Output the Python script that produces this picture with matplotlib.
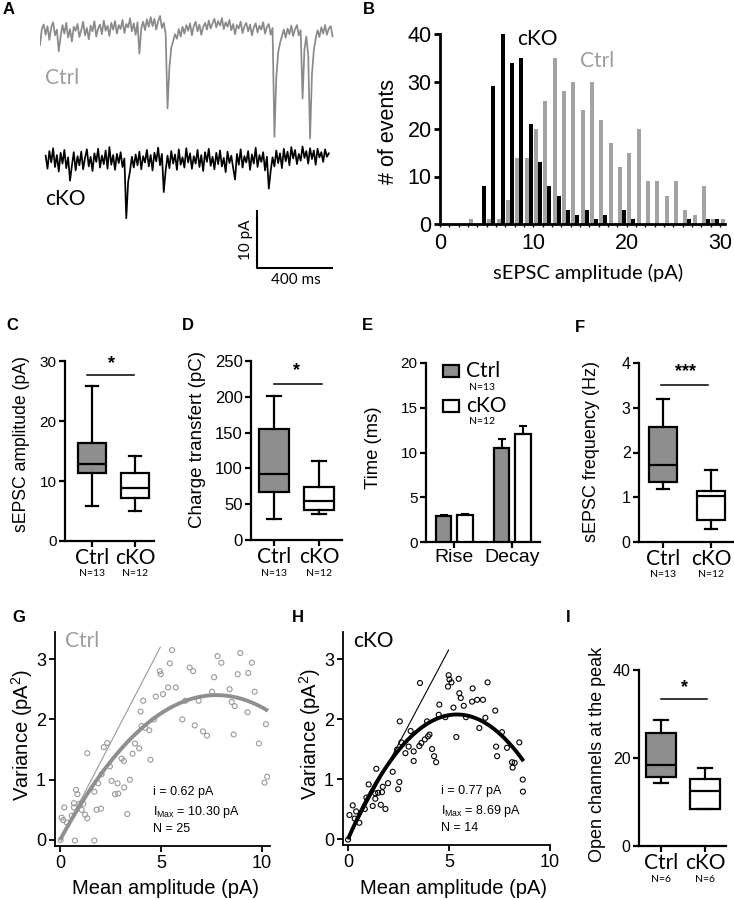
import numpy as np
import matplotlib
matplotlib.use('Agg')
import matplotlib.pyplot as plt
from matplotlib.patches import Rectangle

plt.rcParams['font.family'] = ['Liberation Sans', 'DejaVu Sans']
plt.rcParams['mathtext.fontset'] = 'custom'
plt.rcParams['mathtext.rm'] = 'Liberation Sans'
plt.rcParams['mathtext.it'] = 'Liberation Sans:italic'
plt.rcParams['mathtext.bf'] = 'Liberation Sans:bold'

W, H = 734, 900
MYR = 'Lato'
BOX_GRAY = '#8e8e8e'
HIST_GRAY = '#a3a3a3'
TRACE_GRAY = '#8a8a8a'
SCAT_GRAY = '#9a9a9a'
TEXT_GRAY = '#9c9c9c'

# ---------------- data ----------------
# A: example traces (pA relative to baseline, one sample every 10 ms)
ctrl_trace = [
    -2.3, 0.6, 1.3, -0.5, 1.0, -1.4, 0.8, 1.7, -0.6, 0.4, -3.4, -0.8, 1.2, -0.3, 1.6, -1.0, 0.5, -1.7, 0.9, 0.2,
    1.4, -0.9, 0.3, 1.8, -0.6, 0.7, -1.3, 1.1, 0.1, 1.9, -0.8, 0.6, 1.3, -0.4, 2.0, 0.2, 1.1, -0.7, 1.6, 0.4,
    1.9, -0.3, 1.2, 0.5, 2.1, -0.2, 1.4, 0.8, 2.4, 0.1, 1.5, -0.5, 1.7, -3.8, 0.6, 1.8, 0.3, 2.2, 0.9, 2.6,
    1.0, 2.3, 0.4, 1.9, 2.8, 0.7, 1.6, -0.4, -13.4, -6.2, -2.8, -1.6, -0.4, -1.2, 0.5, -0.8, 0.9, -0.3, 1.2, 0.2,
    1.5, -0.6, 1.0, 1.8, 0.1, 1.3, -0.5, 0.9, 1.6, 0.4, 2.0, 0.6, 1.5, 2.3, 0.8, 1.9, 1.1, 2.4, 0.5, 1.7,
    0.9, 2.1, 0.3, 1.4, -0.4, 1.2, 0.6, 1.8, -0.2, 1.0, 1.6, 0.1, 1.3, -0.6, 0.8, 1.5, -0.1, 1.1, 0.4, 1.7,
    -0.3, 0.9, 1.4, -0.5, 0.7, -18.4, -8.0, -3.6, -1.9, -0.8, 0.4, -1.0, 0.6, -0.4, 1.1, -0.7, 0.5, 1.2, -0.6, 0.3,
    -11.7, -3.1, -0.8, -4.0, -18.7, -7.5, -3.2, -1.2, 0.3, -0.9, 0.8, -0.3, 1.2, -0.5, 0.6, 1.0, -0.8,
]
cko_trace = [
    0.8, -1.5, 1.6, -0.4, 2.1, -1.2, 0.9, -2.0, 1.3, -0.6, 1.8, -1.4, 0.5, -3.6, -1.0, 1.4, -1.8, 0.7, -0.9, 1.5,
    -1.6, 0.4, 1.9, -1.1, 0.6, -1.9, 1.2, -0.3, 2.0, -1.3, 0.8, -0.7, 1.7, -1.5, 2.3, -0.8, 0.9, -1.7, 1.1, -0.5,
    1.4, -1.2, 0.3, -10.2, -3.8, -1.9, 0.6, -1.3, 1.0, -0.9, 1.5, -1.6, 0.7, -0.4, 1.8, -1.1, 0.9, -1.8, 1.3, -0.2,
    2.2, -0.9, 1.1, -5.6, -1.8, 0.8, -1.4, 1.6, -0.6, 1.0, -1.7, 1.9, -0.8, 0.5, -1.3, 2.1, -0.4, 1.2, -1.5, 0.7,
    -0.6, 1.8, -1.2, 0.9, -1.9, 1.4, -0.3, 2.0, -1.0, 0.6, -1.6, 1.3, -0.7, 1.7, -1.1, 0.4, -2.1, 1.5, -0.5, 0.8,
    -1.4, -3.4, 1.1, -0.8, 1.9, -1.3, 0.7, -0.4, 1.6, -1.7, 1.0, -0.6, 2.2, -1.2, 0.9, -0.3, 1.4, -1.8, 0.6, -5.0,
    -1.9, 0.5, -1.1, 1.7, -0.5, 1.2, -1.4, 2.0, -0.2, 1.5, -0.9, 2.3, 0.3, 1.8, -0.7, 1.1, -0.1, 2.4, 0.4, 1.6,
    -0.6, 2.1, 0.2, 1.7, -0.8, 2.0, 0.5, 1.4, -0.3, 1.9, 0.6, 1.2,
]
sample_ms = 10
ctrl_base, cko_base = -5.6, -28.1

# B: amplitude histogram, 1 pA bins
bin_start = list(range(31))
cko_counts = [0, 0, 0, 0, 8, 29, 40, 34, 35, 21, 13, 8, 6, 3, 2, 3, 1, 2, 0, 3, 1,
              0, 0, 0, 0, 0, 1, 0, 1, 1, 0]
ctrl_counts = [0, 0, 0, 1, 0, 1, 1, 5, 14, 14, 20, 26, 35, 28, 30, 24, 30, 22, 17, 12, 15,
               20, 9, 9, 6, 9, 3, 2, 8, 1, 1]

# box plots: (whisker low, Q1, median, Q3, whisker high)
groups = ['Ctrl', 'cKO']
amp_ctrl = [5.8, 11.4, 12.9, 16.4, 25.8]
amp_cko = [4.95, 7.2, 8.85, 11.35, 14.1]
charge_ctrl = [28.9, 66.6, 91.7, 154.6, 201.0]
charge_cko = [36.3, 41.4, 54.5, 74.5, 110.8]
freq_ctrl = [1.19, 1.33, 1.73, 2.58, 3.2]
freq_cko = [0.29, 0.5, 1.03, 1.14, 1.6]
chan_ctrl = [14.4, 15.6, 18.4, 25.6, 28.6]
chan_cko = [8.3, 8.3, 12.5, 15.2, 17.65]
n_main = ['N=13', 'N=12']
n_chan = ['N=6', 'N=6']

# E: kinetics, mean + SEM
kin_labels = ['Rise', 'Decay']
kin_ctrl = [2.86, 10.54]
kin_ctrl_sem = [0.14, 1.0]
kin_cko = [3.0, 12.06]
kin_cko_sem = [0.1, 0.89]

# G/H: non-stationary fluctuation analysis
g_x = [0.03, 0.08, 0.21, 0.16, 0.33, 0.58, 0.69, 0.69, 0.79, 0.86, 0.74, 0.96, 1.07, 1.15, 1.24, 1.35,
       1.35, 1.70, 1.81, 2.03, 1.70, 1.89, 2.06, 2.34, 2.17, 2.47, 2.55, 2.72, 2.88, 2.85, 3.05, 3.16,
       3.18, 3.33, 3.46, 3.59, 3.71, 3.92, 3.99, 4.12, 4.04, 4.23, 4.42, 4.48, 4.65, 4.74, 4.94, 4.99,
       5.10, 5.35, 5.44, 5.55, 5.73, 6.06, 6.21, 6.42, 6.59, 6.67, 6.87, 7.08, 7.28, 7.53, 7.63, 7.80,
       7.99, 8.40, 8.50, 8.65, 8.60, 8.80, 8.93, 9.29, 9.32, 9.50, 9.64, 9.85, 10.20, 10.13, 10.26]
g_y = [0.0, 0.37, 0.54, 0.33, 0.29, 0.40, 0.61, 0.54, 0.83, 0.76, -0.01, 0.60, 0.50, 0.60, 0.42, 0.36,
       1.44, 0.80, 0.50, 0.52, -0.01, 0.94, 1.09, 1.61, 1.54, 1.22, 0.98, 0.76, 0.77, 0.94, 1.35, 1.31,
       0.87, 0.43, 1.00, 1.43, 1.60, 1.52, 2.13, 2.31, 1.89, 1.86, 1.82, 1.33, 2.00, 2.38, 2.80, 2.75,
       2.42, 2.53, 2.93, 3.15, 2.53, 2.00, 2.31, 2.86, 2.80, 1.90, 2.31, 1.80, 1.73, 2.46, 2.70, 3.05,
       2.94, 2.50, 2.29, 2.22, 1.75, 2.75, 3.10, 2.12, 2.77, 2.94, 2.46, 1.60, 1.92, 0.95, 1.05]
h_x = [0.0, 0.07, 0.23, 0.40, 0.33, 0.56, 0.83, 0.91, 1.02, 1.22, 1.35, 1.35, 1.40, 1.49, 1.62, 1.68,
       1.72, 1.85, 1.98, 2.21, 2.48, 2.54, 2.56, 2.43, 2.64, 2.84, 3.00, 3.10, 3.25, 3.25, 3.53, 3.63,
       3.80, 3.96, 4.03, 3.56, 3.91, 4.16, 4.26, 4.36, 4.52, 4.49, 4.82, 4.95, 4.98, 5.02, 5.12, 5.22,
       5.36, 5.48, 5.51, 5.58, 5.73, 5.84, 6.17, 6.14, 6.39, 6.50, 6.68, 6.80, 6.91, 7.29, 7.33, 7.38,
       7.62, 7.87, 8.12, 8.15, 8.25, 8.48, 8.65, 8.66]
h_y = [-0.01, 0.40, 0.56, 0.46, 0.34, 0.27, 0.50, 0.69, 0.91, 0.55, 0.67, 0.76, 1.17, 0.77, 0.57, 0.78,
       0.87, 0.50, 0.93, 1.12, 0.83, 0.95, 1.96, 1.49, 1.61, 1.43, 1.54, 1.80, 1.46, 1.30, 1.55, 1.60,
       1.66, 1.71, 1.74, 2.60, 1.96, 1.50, 1.38, 1.28, 2.24, 2.07, 2.03, 2.54, 2.73, 2.66, 2.61, 2.19,
       1.70, 2.67, 2.43, 2.35, 2.22, 2.03, 2.51, 2.29, 2.32, 1.85, 2.32, 2.02, 2.61, 2.14, 1.54, 1.38,
       1.78, 1.52, 1.28, 1.19, 1.27, 1.61, 0.99, 0.79]
g_i, g_imax, g_n = 0.62, 10.30, 25
h_i, h_imax, h_n = 0.77, 8.69, 14
g_line_end = (4.97, 3.2)
h_line_end = (4.98, 3.15)

# ---------------- figure ----------------
fig = plt.figure(figsize=(W / 100, H / 100), dpi=100)


def add_ax(l, t, r, b):
    return fig.add_axes([l / W, 1 - b / H, (r - l) / W, (b - t) / H])


def ftext(x, y, s, **kw):
    return fig.text(x / W, 1 - y / H, s, **kw)


def clean(ax, lw=1.6, ticklen=4, labelsize=11):
    for s in ('top', 'right'):
        ax.spines[s].set_visible(False)
    for s in ('left', 'bottom'):
        ax.spines[s].set_linewidth(lw)
    ax.tick_params(width=lw, length=ticklen, labelsize=labelsize, pad=2, colors='k')


def box_panel(ax, ctrl, cko, xlim, ylim, yticks, width, sig, star, ns, n_y,
              lw=1.6, tick_fs=11, cat_fs=15):
    keys = ['whislo', 'q1', 'med', 'q3', 'whishi']
    stats = [dict(zip(keys, ctrl), fliers=[]), dict(zip(keys, cko), fliers=[])]
    bp = ax.bxp(stats, positions=[1, 2], widths=width, capwidths=width * 0.45,
                showfliers=False, patch_artist=True, manage_ticks=False,
                boxprops=dict(linewidth=lw, edgecolor='k'),
                whiskerprops=dict(linewidth=lw, color='k'),
                capprops=dict(linewidth=lw, color='k'),
                medianprops=dict(linewidth=lw, color='k'))
    bp['boxes'][0].set_facecolor(BOX_GRAY)
    bp['boxes'][1].set_facecolor('white')
    ax.set_xlim(*xlim)
    ax.set_ylim(*ylim)
    ax.set_yticks(yticks)
    clean(ax, lw=lw, labelsize=tick_fs)
    ax.set_xticks([1, 2], groups, fontfamily=MYR, fontsize=cat_fs)
    ax.tick_params(axis='x', length=4, pad=1)
    (x1, x2, y), (sx, sy, stxt) = sig, star
    ax.plot([x1, x2], [y, y], color='k', lw=1.1, clip_on=False)
    ax.text(sx, sy, stxt, ha='center', va='center', fontsize=13, fontweight='bold')
    for p, n in zip([1, 2], ns):
        ax.text(p, n_y, n, transform=ax.get_xaxis_transform(), ha='center', va='center',
                fontsize=7.5, fontfamily=MYR)


# ---- A ----
axA = add_ax(40, 0, 335, 285)
axA.axis('off')
axA.set_xlim(0, 1573)
axA.set_ylim(-50, 0)
t_ctrl = np.arange(len(ctrl_trace)) * sample_ms
t_cko = 30 + np.arange(len(cko_trace)) * sample_ms
axA.plot(t_ctrl, np.array(ctrl_trace) + ctrl_base, color=TRACE_GRAY, lw=1.25)
axA.plot(t_cko, np.array(cko_trace) + cko_base, color='k', lw=1.25)
axA.plot([1157, 1157, 1557], [-37, -47, -47], color='k', lw=1.5)
axA.text(1099, -42.1, '10 pA', rotation=90, ha='center', va='center', fontsize=11, fontfamily=MYR)
axA.text(1365, -49.1, '400 ms', ha='center', va='center', fontsize=11, fontfamily=MYR)
axA.text(27, -13.6, 'Ctrl', ha='left', va='center', fontsize=15, fontfamily=MYR, color=TEXT_GRAY)
axA.text(27, -34.9, 'cKO', ha='left', va='center', fontsize=15, fontfamily=MYR, color='k')

# ---- B ----
axB = add_ax(440, 34, 725, 224)
axB.bar(np.array(bin_start) + 0.29, ctrl_counts, width=0.42, color=HIST_GRAY, zorder=2)
axB.bar(np.array(bin_start) + 0.72, cko_counts, width=0.42, color='k', zorder=3)
axB.set_xlim(0, 30.55)
axB.set_ylim(0, 40)
axB.set_yticks([0, 10, 20, 30, 40])
axB.set_xticks([0, 10, 20, 30])
axB.set_xticks(range(31), minor=True)
clean(axB, lw=2.0, labelsize=15.5)
axB.tick_params(axis='x', which='both', length=2.5, width=1.0, pad=4)
axB.text(8.3, 39, 'cKO', ha='left', va='center', fontsize=15, fontfamily=MYR)
axB.text(15.0, 34.3, 'Ctrl', ha='left', va='center', fontsize=15, fontfamily=MYR, color=TEXT_GRAY)
ftext(388, 131, '# of events', rotation=90, ha='center', va='center', fontsize=15.5)
ftext(588, 273, 'sEPSC amplitude (pA)', ha='center', va='center', fontsize=14.5, fontfamily=MYR)

# ---- C ----
axC = add_ax(65, 361, 154, 541)
box_panel(axC, amp_ctrl, amp_cko, (0.372, 2.442), (0, 30), [0, 10, 20, 30], 0.67,
          (0.884, 1.977, 27.65), (1.457, 29.6, '*'), n_main, -0.178, tick_fs=11)
ftext(22, 444, 'sEPSC amplitude (pA)', rotation=90, ha='center', va='center', fontsize=12.7)

# ---- D ----
axD = add_ax(251, 361, 342, 540)
box_panel(axD, charge_ctrl, charge_cko, (0.489, 2.51), (0, 250), [0, 50, 100, 150, 200, 250], 0.667,
          (1.0, 2.07, 218), (1.5, 236, '*'), n_main, -0.185, tick_fs=12)
ftext(198, 440, 'Charge transfert (pC)', rotation=90, ha='center', va='center', fontsize=13.5)

# ---- E ----
axE = add_ax(426, 363, 540, 542)
xk = np.arange(len(kin_labels))
axE.bar(xk - 0.18, kin_ctrl, width=0.26, color=BOX_GRAY, edgecolor='k', lw=1.6, zorder=3)
axE.bar(xk + 0.19, kin_cko, width=0.26, color='white', edgecolor='k', lw=1.6, zorder=3)
axE.errorbar(xk - 0.18, kin_ctrl, yerr=[np.zeros(2), kin_ctrl_sem], fmt='none', ecolor='k',
             elinewidth=1.5, capsize=3, capthick=1.5, zorder=2)
axE.errorbar(xk + 0.19, kin_cko, yerr=[np.zeros(2), kin_cko_sem], fmt='none', ecolor='k',
             elinewidth=1.5, capsize=3, capthick=1.5, zorder=2)
axE.set_xlim(-0.483, 1.483)
axE.set_ylim(0, 20)
axE.set_yticks([0, 5, 10, 15, 20])
clean(axE, labelsize=11)
axE.set_xticks(xk, kin_labels, fontsize=14)
axE.tick_params(axis='x', length=4, pad=1)
ftext(373, 448, 'Time (ms)', rotation=90, ha='center', va='center', fontsize=13.3)
for (top, face, name, n) in [(365, BOX_GRAY, 'Ctrl', 'N=13'), (400, 'white', 'cKO', 'N=12')]:
    fig.add_artist(Rectangle((443 / W, 1 - (top + 12) / H), 16 / W, 12 / H, transform=fig.transFigure,
                             facecolor=face, edgecolor='k', lw=1.6))
    ftext(466, top + 6, name, ha='left', va='center', fontsize=15, fontfamily=MYR)
    ftext(469, top + 22, n, ha='left', va='center', fontsize=7.5, fontfamily=MYR)

# ---- F ----
axF = add_ax(639, 363, 733, 542)
box_panel(axF, freq_ctrl, freq_cko, (0.5, 2.458), (0, 4), [0, 1, 2, 3, 4], 0.6,
          (0.95, 1.94, 3.5), (1.46, 3.8, '***'), n_main, -0.18, tick_fs=11.5)
ftext(592, 452, 'sEPSC frequency (Hz)', rotation=90, ha='center', va='center', fontsize=13)

# ---- G / H ----
def nsfa_panel(ax, xs, ys, i, imax, n, line_end, color, curve_color, name, name_color, xmax):
    I = np.linspace(0, imax, 120)
    ax.plot([0, line_end[0]], [0, line_end[1]], color=color, lw=0.8, zorder=2)
    ax.scatter(xs, ys, s=13, facecolors='none', edgecolors=color, linewidths=0.8, zorder=3)
    ax.plot(I, i * I - I ** 2 / n, color=curve_color, lw=2.8, zorder=4, solid_capstyle='butt')
    ax.set_xlim(-0.25, xmax)
    ax.set_ylim(-0.1, 3.45)
    ax.set_xticks([0, 5, 10])
    ax.set_yticks([0, 1, 2, 3])
    clean(ax, lw=1.3, ticklen=4.5, labelsize=13)
    ax.text(0.25, 3.3, name, ha='left', va='center', fontsize=15, fontfamily=MYR, color=name_color)
    ax.text(4.6, 0.8, f'i = {i:.2f} pA', fontsize=9, va='center')
    ax.text(4.6, 0.47, r'I$_{\mathrm{Max}}$' + f' = {imax:.2f} pA', fontsize=9, va='center')
    ax.text(4.6, 0.18, f'N = {n}', fontsize=9, va='center')


axG = add_ax(55, 632, 270, 846)
nsfa_panel(axG, g_x, g_y, g_i, g_imax, g_n, g_line_end, SCAT_GRAY, '#8f8f8f', 'Ctrl', TEXT_GRAY, 10.4)
ftext(22, 735, r'Variance (pA$^2$)', rotation=90, ha='center', va='center', fontsize=14.5)
ftext(166, 889, 'Mean amplitude (pA)', ha='center', va='center', fontsize=14.5)

axH = add_ax(343, 632, 550, 845)
nsfa_panel(axH, h_x, h_y, h_i, h_imax, h_n, h_line_end, 'k', 'k', 'cKO', 'k', 10.0)
ftext(310, 734, r'Variance (pA$^2$)', rotation=90, ha='center', va='center', fontsize=14.5)
ftext(454, 889, 'Mean amplitude (pA)', ha='center', va='center', fontsize=14.5)

# ---- I ----
axI = add_ax(639, 670, 726, 846)
box_panel(axI, chan_ctrl, chan_cko, (0.51, 2.47), (0, 40), [0, 20, 40], 0.68,
          (1.0, 2.04, 33.4), (1.53, 36.0, '*'), n_chan, -0.19, tick_fs=11.5)
ftext(597, 754, 'Open channels at the peak', rotation=90, ha='center', va='center', fontsize=13)

# ---- panel letters ----
for (x, y, s) in [(3, 10, 'A'), (363, 10, 'B'), (6, 325, 'C'), (182, 326, 'D'), (362, 326, 'E'),
                  (575, 327, 'F'), (12, 618, 'G'), (292, 618, 'H'), (566, 618, 'I')]:
    ftext(x, y, s, ha='left', va='center', fontsize=12, fontweight='bold')

fig.savefig('out.png', dpi=100)
